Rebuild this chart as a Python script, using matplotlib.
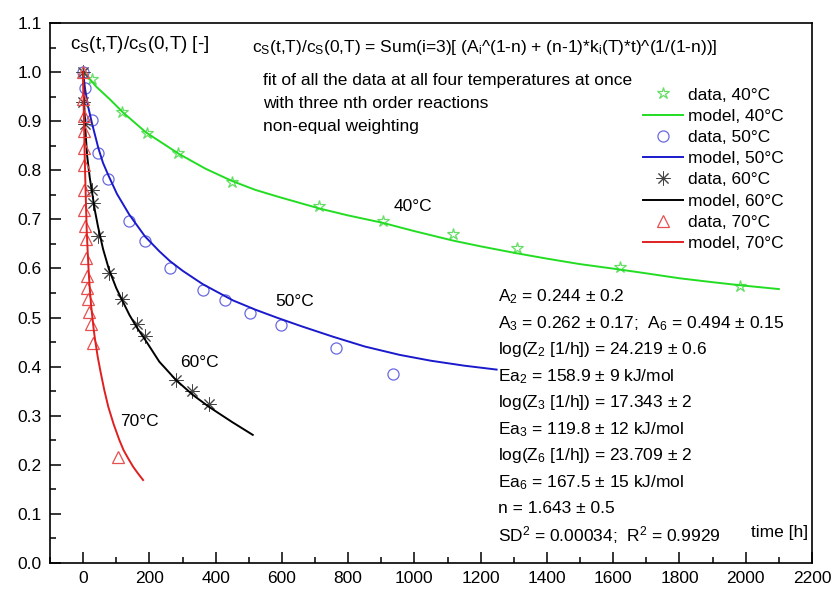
import numpy as np
import matplotlib
matplotlib.use("Agg")
import matplotlib.pyplot as plt
from matplotlib.ticker import MultipleLocator

plt.rcParams['font.family'] = ['Liberation Sans', 'DejaVu Sans']
plt.rcParams['mathtext.fontset'] = 'custom'
plt.rcParams['mathtext.rm'] = 'Liberation Sans'
plt.rcParams['mathtext.it'] = 'Liberation Sans:italic'

# measured data (time [h], relative concentration)
t40 = [27, 117, 193, 287, 450, 712, 906, 1117, 1311, 1620, 1983]
c40 = [0.986, 0.918, 0.875, 0.836, 0.777, 0.727, 0.696, 0.670, 0.641, 0.602, 0.565]
t50 = [0, 6, 27, 46, 76, 139, 187, 262, 361, 428, 503, 597, 762, 934]
c50 = [1.0, 0.967, 0.902, 0.835, 0.782, 0.696, 0.655, 0.600, 0.557, 0.535, 0.510, 0.484, 0.438, 0.384]
t60 = [0, 0, 5, 27, 31, 45, 78, 118, 162, 187, 280, 328, 380]
c60 = [1.0, 0.94, 0.895, 0.76, 0.733, 0.667, 0.59, 0.537, 0.486, 0.463, 0.373, 0.351, 0.324]
t70 = [0, 1, 1.5, 2, 2.5, 3, 3.5, 3, 6, 9, 9, 11, 13, 16, 18, 23, 31, 105]
c70 = [1.0, 0.945, 0.91, 0.88, 0.845, 0.81, 0.76, 0.72, 0.686, 0.659, 0.622, 0.584, 0.561, 0.537, 0.512, 0.486, 0.449, 0.215]

# model curves
m40_t = [0, 15, 40, 80, 120, 190, 290, 370, 450, 520, 594, 714, 800, 904, 1000, 1115, 1200, 1308,
         1400, 1498, 1618, 1700, 1800, 1900, 1980, 2100]
m40_c = [1.0, 0.99, 0.97, 0.945, 0.918, 0.877, 0.833, 0.803, 0.778, 0.760, 0.745, 0.722, 0.708, 0.693,
         0.676, 0.657, 0.645, 0.631, 0.620, 0.609, 0.598, 0.590, 0.580, 0.572, 0.566, 0.558]
m50_t = [0, 6, 15, 27, 46, 60, 76, 102, 139, 187, 230, 262, 301, 361, 452, 520, 584, 660, 754, 850,
         955, 1050, 1150, 1248]
m50_c = [1.0, 0.965, 0.93, 0.895, 0.845, 0.815, 0.79, 0.752, 0.71, 0.665, 0.635, 0.615, 0.595, 0.568,
         0.535, 0.516, 0.500, 0.482, 0.461, 0.441, 0.424, 0.412, 0.402, 0.394]
m60_t = [0, 3, 6, 12, 20, 27, 35, 45, 60, 78, 100, 118, 140, 162, 187, 230, 280, 330, 380, 450, 512]
m60_c = [1.0, 0.94, 0.89, 0.83, 0.785, 0.755, 0.72, 0.685, 0.64, 0.598, 0.56, 0.535, 0.505, 0.48,
         0.455, 0.41, 0.373, 0.343, 0.318, 0.287, 0.261]
m70_t = [0, 1, 2, 3.5, 5, 7, 9, 11, 14, 17, 20, 24, 28, 32, 36, 44, 53, 64, 76, 92, 109, 122, 136,
         151, 166, 181]
m70_c = [1.0, 0.96, 0.92, 0.87, 0.82, 0.77, 0.72, 0.675, 0.63, 0.59, 0.56, 0.525, 0.50, 0.475, 0.455,
         0.42, 0.388, 0.352, 0.318, 0.283, 0.251, 0.23, 0.213, 0.196, 0.182, 0.169]

fit_lines = ["fit of all the data at all four temperatures at once",
             "with three nth order reactions",
             "non-equal weighting"]
param_lines = [r"A$_\mathrm{2}$ = 0.244 ± 0.2",
               r"A$_\mathrm{3}$ = 0.262 ± 0.17;  A$_\mathrm{6}$ = 0.494 ± 0.15",
               r"log(Z$_\mathrm{2}$ [1/h]) = 24.219 ± 0.6",
               r"Ea$_\mathrm{2}$ = 158.9 ± 9 kJ/mol",
               r"log(Z$_\mathrm{3}$ [1/h]) = 17.343 ± 2",
               r"Ea$_\mathrm{3}$ = 119.8 ± 12 kJ/mol",
               r"log(Z$_\mathrm{6}$ [1/h]) = 23.709 ± 2",
               r"Ea$_\mathrm{6}$ = 167.5 ± 15 kJ/mol",
               r"n = 1.643 ± 0.5",
               r"SD$^\mathrm{2}$ = 0.00034;  R$^\mathrm{2}$ = 0.9929"]

fig = plt.figure(figsize=(8.34, 5.91), dpi=100)
ax = fig.add_axes([50/834, 28/591, 762/834, 540/591])

ax.plot(t40, c40, ls='none', marker='*', ms=9, mfc='none', mec='#66dd66', mew=0.9, label='data, 40°C')
ax.plot(m40_t, m40_c, color='#22dd22', lw=1.4, label='model, 40°C')
ax.plot(t50, c50, ls='none', marker='o', ms=8, mfc='none', mec='#6a6ae0', mew=0.9, label='data, 50°C')
ax.plot(m50_t, m50_c, color='#1a1acc', lw=1.4, label='model, 50°C')
ax.plot(t60, c60, ls='none', marker=(8, 2, 0), ms=10, mec='#444444', mew=0.7, label='data, 60°C')
ax.plot(m60_t, m60_c, color='black', lw=1.4, label='model, 60°C')
ax.plot(t70, c70, ls='none', marker='^', ms=8, mfc='none', mec='#e65050', mew=0.9, label='data, 70°C')
ax.plot(m70_t, m70_c, color='#e02020', lw=1.4, label='model, 70°C')

ax.set_xlim(-100, 2200)
ax.set_ylim(0, 1.1)
ax.xaxis.set_major_locator(MultipleLocator(200))
ax.xaxis.set_minor_locator(MultipleLocator(100))
ax.yaxis.set_major_locator(MultipleLocator(0.1))
ax.yaxis.set_minor_locator(MultipleLocator(0.05))
ax.yaxis.set_major_formatter(matplotlib.ticker.FormatStrFormatter('%.1f'))
ax.tick_params(which='both', direction='in', top=False, right=False, labelsize=12.5, width=1.1)
ax.tick_params(which='major', length=8, pad=6)
ax.tick_params(which='minor', length=4)
for s in ax.spines.values():
    s.set_linewidth(1.2)

ax.legend(loc='upper left', bbox_to_anchor=(0.778, 0.8807), frameon=False, fontsize=12.5,
          numpoints=1, handlelength=2.3, handletextpad=0.3, labelspacing=0.35,
          borderaxespad=0, borderpad=0)

tr = ax.transAxes
ax.text(0.026, 0.961, r"c$_\mathrm{S}$(t,T)/c$_\mathrm{S}$(0,T) [-]", transform=tr, fontsize=13.5, va='center')
ax.text(0.265, 0.954, r"c$_\mathrm{S}$(t,T)/c$_\mathrm{S}$(0,T) = Sum(i=3)[ (A$_\mathrm{i}$^(1-n) + (n-1)*k$_\mathrm{i}$(T)*t)^(1/(1-n))]",
        transform=tr, fontsize=12.5, va='center')
for i, s in enumerate(fit_lines):
    ax.text(0.280, 0.894 - i * 0.0426, s, transform=tr, fontsize=12.5, va='center')
for i, s in enumerate(param_lines):
    ax.text(0.588, (563 - 297) / 540 - i * 0.0490, s, transform=tr, fontsize=12.5, va='center')
ax.text(0.995, 0.057, "time [h]", transform=tr, fontsize=12.5, va='center', ha='right')

ax.text(995, 0.727, "40°C", fontsize=12.5, ha='center', va='center')
ax.text(639, 0.533, "50°C", fontsize=12.5, ha='center', va='center')
ax.text(350, 0.408, "60°C", fontsize=12.5, ha='center', va='center')
ax.text(169, 0.288, "70°C", fontsize=12.5, ha='center', va='center')

fig.savefig("out.png", dpi=100)
